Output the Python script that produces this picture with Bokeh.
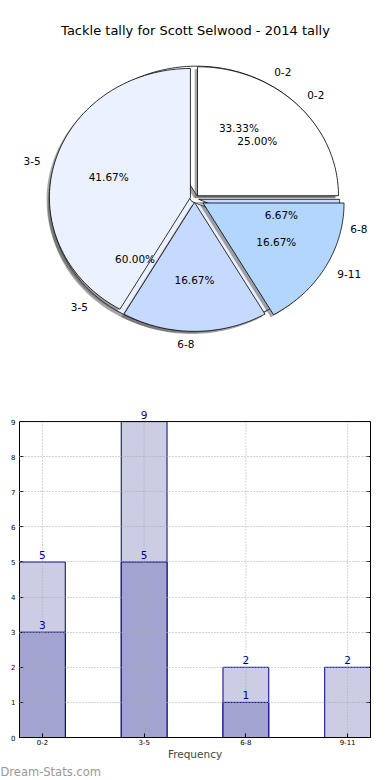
import numpy as np
from bokeh.plotting import figure
from bokeh.models import (Range1d, Label, FixedTicker, SingleIntervalTicker,
                          Span, BoxAnnotation, LinearAxis, Title)
from bokeh.layouts import column
from bokeh.embed import file_html
from bokeh.resources import INLINE
from bokeh.core.properties import value

# ---------------- data ----------------
title_text = "Tackle tally for Scott Selwood - 2014 tally"
categories = ["0-2", "3-5", "6-8", "9-11"]

pie_back_labels = ["0-2", "3-5", "6-8"]
pie_back_values = [5, 9, 1]            # 33.33% / 60.00% / 6.67%
pie_front_labels = ["0-2", "3-5", "6-8", "9-11"]
pie_front_values = [3, 5, 2, 2]        # 25.00% / 41.67% / 16.67% / 16.67%

bar_light = [5, 9, 2, 2]
bar_dark = [3, 5, 1, 0]
y_max = 9
watermark = "Dream-Stats.com"
x_title = "Frequency"

# ---------------- styles ----------------
FONT = "DejaVu Sans"
pie_colors = ["#ffffff", "#ebf1ff", "#c6d9ff", "#b3d6ff"]
back_explode = [0.03, 0.03, 0.03]
front_explode = [0.03, 0.03, 0.03, 0.07]
light_color = "#ccccE5"
dark_color = "#a3a3cf"
edge_color = "#000080"
label_color = "#00008b"
grid_color = "#a8a8a8"

# shared frame borders (column aligns the frames of both figures)
BL, BR = 19, 20
W = 390

# ---------------- pie figure ----------------
PH = 394
CX, CY = 194, 198          # pie centre in page pixels
RX, RY = 141, 129          # pie radii (px)

p = figure(width=W, height=PH, output_backend="svg", toolbar_location=None,
           x_range=Range1d((BL - CX) / RX, (W - BR - CX) / RX),
           y_range=Range1d(-(PH - CY) / RY, CY / RY),
           min_border_left=BL, min_border_right=BR,
           min_border_top=0, min_border_bottom=0)
p.axis.visible = False
p.grid.visible = False
p.outline_line_color = None


def pie_geometry(values, explode):
    fr = np.asarray(values, dtype=float) / float(np.sum(values))
    starts = np.concatenate([[0.0], np.cumsum(fr)[:-1]]) * 2 * np.pi
    ends = np.cumsum(fr) * 2 * np.pi
    xs, ys, mids, offs = [], [], [], []
    for s, e, ex in zip(starts, ends, explode):
        m = 0.5 * (s + e)
        dx, dy = ex * np.cos(m), ex * np.sin(m)
        th = np.linspace(s, e, 80)
        xs.append(np.concatenate([[dx], dx + np.cos(th)]))
        ys.append(np.concatenate([[dy], dy + np.sin(th)]))
        mids.append(m)
        offs.append((dx, dy))
    return xs, ys, mids, offs, fr


def draw_pie_patches(values, explode, colors):
    xs, ys, mids, offs, fr = pie_geometry(values, explode)
    p.patches([x - 0.02 for x in xs], [y - 0.02 for y in ys],
              fill_color="#4d4d4d", fill_alpha=0.5, line_color=None)
    p.patches(xs, ys, fill_color=colors[:len(values)], line_color="black",
              line_width=0.8)


def draw_pie_texts(values, labels, explode):
    xs, ys, mids, offs, fr = pie_geometry(values, explode)
    for lab, m, (dx, dy), f in zip(labels, mids, offs, fr):
        lx, ly = dx + 1.1 * np.cos(m), dy + 1.1 * np.sin(m)
        align = "left" if np.cos(m) > 0 else "right"
        p.text(x=[lx], y=[ly], text=[lab], text_align=align,
               text_baseline="middle", text_font=value(FONT),
               text_font_size="10.5px", text_color="black")
        px, py = dx + 0.6 * np.cos(m), dy + 0.6 * np.sin(m)
        p.text(x=[px], y=[py], text=["%.2f%%" % (100 * f)],
               text_align="center", text_baseline="middle",
               text_font=value(FONT), text_font_size="10.5px",
               text_color="black")


draw_pie_patches(pie_back_values, back_explode, pie_colors)
draw_pie_patches(pie_front_values, front_explode, pie_colors)
draw_pie_texts(pie_back_values, pie_back_labels, back_explode)
draw_pie_texts(pie_front_values, pie_front_labels, front_explode)

p.add_layout(Label(x=(195 - CX) / RX, y=(CY - 30) / RY, text=title_text,
                   text_align="center", text_baseline="middle",
                   text_font=FONT, text_font_size="13px",
                   text_color="black"))

# ---------------- bar figure ----------------
BH = 384
xpos = list(range(len(categories)))
bar_w = 0.45
y_top = y_max + 0.6      # head-room for the value label above the tallest bar

b = figure(width=W, height=BH, output_backend="svg", toolbar_location=None,
           x_range=Range1d(-bar_w / 2, xpos[-1] + bar_w / 2),
           y_range=Range1d(0, y_top),
           min_border_left=BL, min_border_right=BR,
           min_border_top=6, min_border_bottom=20)
b.outline_line_color = None

# horizontal grid (ends at the top spine)
b.xgrid.visible = False
b.ygrid.ticker = SingleIntervalTicker(interval=1)
b.ygrid.grid_line_color = grid_color
b.ygrid.grid_line_dash = "1 2"
b.ygrid.grid_line_width = 1
b.ygrid.level = "overlay"

b.vbar(x=xpos, top=bar_light, width=bar_w, fill_color=light_color,
       line_color=edge_color, line_width=1)
b.vbar(x=xpos, top=bar_dark, width=bar_w, fill_color=dark_color,
       line_color=edge_color, line_width=1)

# vertical grid lines, drawn over the bars, from 0 up to the top spine
b.segment(x0=xpos, y0=[0] * len(xpos), x1=xpos, y1=[y_max] * len(xpos),
          line_color=grid_color, line_dash="1 2", line_width=1)

# blank the head-room above the axes box, then draw the top spine
b.add_layout(BoxAnnotation(bottom=y_max, fill_color="white", fill_alpha=1,
                           line_color=None, level="overlay"))
b.add_layout(Span(location=y_max, dimension="width", line_color="black",
                  line_width=1, level="overlay"))

for vals in (bar_light, bar_dark):
    for xi, v in zip(xpos, vals):
        if v > 0:
            b.add_layout(Label(x=xi, y=v, text=str(v), text_align="center",
                               text_baseline="bottom", y_offset=3,
                               text_font=FONT, text_font_size="10.5px",
                               text_color=label_color, level="overlay"))

b.xaxis.ticker = FixedTicker(ticks=xpos)
b.xaxis.major_label_overrides = {i: c for i, c in zip(xpos, categories)}
b.yaxis.ticker = SingleIntervalTicker(interval=1, num_minor_ticks=0)
b.yaxis.bounds = (0, y_max)

# right spine with inward ticks only (no labels)
right_axis = LinearAxis(ticker=FixedTicker(ticks=[], minor_ticks=list(range(y_max + 1))),
                        bounds=(0, y_max))
right_axis.minor_tick_in = 4
right_axis.minor_tick_out = 0
right_axis.minor_tick_line_color = "black"
right_axis.major_tick_line_color = None
right_axis.axis_line_color = "black"
b.add_layout(right_axis, "right")

for ax in (b.xaxis[0], b.yaxis[0]):
    ax.major_tick_in = 4
    ax.major_tick_out = 0
    ax.minor_tick_line_color = None
    ax.axis_line_color = "black"
    ax.major_tick_line_color = "black"
    ax.major_label_text_font = FONT
    ax.major_label_text_color = "black"
    ax.major_label_text_font_size = "7px"
b.xaxis.major_label_standoff = 1
b.yaxis[0].major_label_standoff = 4
b.xaxis.axis_label = x_title
b.xaxis.axis_label_text_font = FONT
b.xaxis.axis_label_text_font_size = "10.5px"
b.xaxis.axis_label_text_font_style = "normal"
b.xaxis.axis_label_standoff = 0

b.add_layout(Title(text=watermark, align="left", offset=-BL, standoff=0,
                   text_font=FONT, text_font_size="11.5px",
                   text_font_style="normal", text_color="#999999"), "below")

layout = column(p, b, spacing=0)
open("out.html", "w").write(file_html(layout, INLINE))
